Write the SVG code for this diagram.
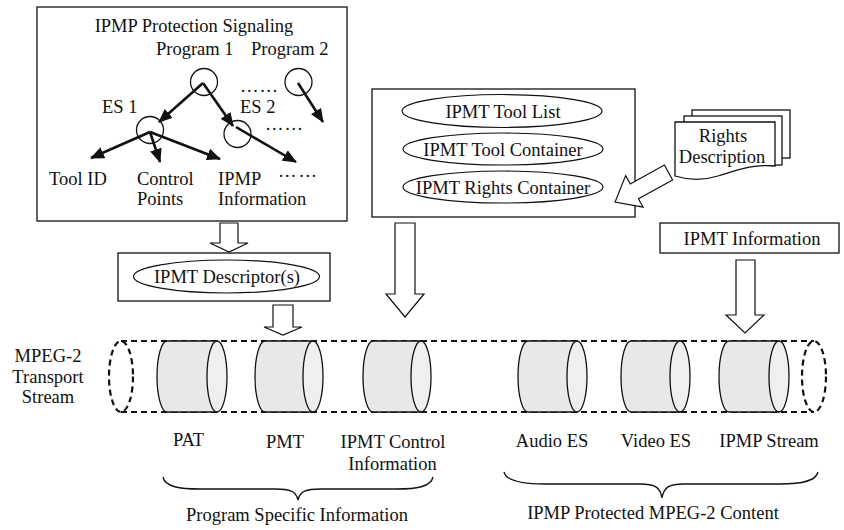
<svg xmlns="http://www.w3.org/2000/svg" width="844" height="530" viewBox="0 0 844 530">
  <style>
    text { font-family: "Liberation Serif", "Times New Roman", serif; font-size: 18.5px; fill: #111; }
    .c { text-anchor: middle; }
    .box { fill: #fff; stroke: #111; stroke-width: 1.3; }
    .oval { fill: #fff; stroke: #111; stroke-width: 1.2; }
    .node { fill: none; stroke: #111; stroke-width: 1.3; }
    .edge { stroke: #111; stroke-width: 2.6; fill: none; }
    .hollow { fill: #fff; stroke: #111; stroke-width: 1.2; stroke-linejoin: miter; }
    .tube { fill: none; stroke: #111; stroke-width: 2.2; stroke-dasharray: 6 4; }
    .cyl { fill: #e8e8e8; stroke: #111; stroke-width: 1.3; }
    .cap { fill: #efefef; stroke: #111; stroke-width: 1.3; }
    .brace { fill: none; stroke: #111; stroke-width: 1.3; }
  </style>
  <defs>
    <marker id="head" viewBox="0 0 14 12" refX="13" refY="6" markerWidth="14" markerHeight="12" markerUnits="userSpaceOnUse" orient="auto">
      <path d="M0,0 L14,6 L0,12 Z" fill="#111"/>
    </marker>
  </defs>

  <!-- Protection signalling tree -->
  <g id="signaling">
    <rect class="box" x="37" y="7" width="310" height="214"/>
    <text class="c" x="194" y="32">IPMP Protection Signaling</text>
    <text x="156" y="55">Program 1</text>
    <text x="251" y="55">Program 2</text>
    <circle class="node" cx="204" cy="82" r="13.5"/>
    <circle class="node" cx="298.5" cy="82" r="13.5"/>
    <circle class="node" cx="150" cy="130" r="13.5"/>
    <circle class="node" cx="237.5" cy="134" r="13.5"/>
    <text x="102" y="113">ES 1</text>
    <text x="240" y="113">ES 2</text>
    <text x="240" y="92" textLength="38" lengthAdjust="spacing">… …</text>
    <text x="265" y="130" textLength="38" lengthAdjust="spacing">… …</text>
    <text x="278" y="177" textLength="39" lengthAdjust="spacing">… …</text>
    <text x="49" y="185">Tool ID</text>
    <text x="137" y="185">Control</text>
    <text x="137" y="205">Points</text>
    <text x="218" y="185">IPMP</text>
    <text x="218" y="205">Information</text>
    <g id="tree-edges">
      <line class="edge" x1="203" y1="83" x2="159" y2="122" marker-end="url(#head)"/>
      <line class="edge" x1="203" y1="83" x2="233" y2="126" marker-end="url(#head)"/>
      <line class="edge" x1="298" y1="83" x2="323" y2="122" marker-end="url(#head)"/>
      <line class="edge" x1="150" y1="132" x2="91" y2="158" marker-end="url(#head)"/>
      <line class="edge" x1="150" y1="132" x2="160" y2="162" marker-end="url(#head)"/>
      <line class="edge" x1="150" y1="132" x2="220" y2="159" marker-end="url(#head)"/>
      <line class="edge" x1="236" y1="127" x2="296" y2="162" marker-end="url(#head)"/>
    </g>
  </g>

  <!-- Tool list / containers -->
  <g id="ipmt-containers">
    <rect class="box" x="372" y="89" width="263" height="128"/>
    <ellipse class="oval" cx="502" cy="111" rx="100" ry="16.5"/>
    <text class="c" x="503" y="118">IPMT Tool List</text>
    <ellipse class="oval" cx="503" cy="149" rx="100" ry="16"/>
    <text class="c" x="503" y="156">IPMT Tool Container</text>
    <ellipse class="oval" cx="503" cy="187" rx="100" ry="16"/>
    <text class="c" x="503" y="194">IPMT Rights Container</text>
  </g>

  <!-- Rights description document stack -->
  <g id="rights">
    <rect class="box" x="692" y="110" width="98" height="48"/>
    <rect class="box" x="684" y="116" width="98" height="49"/>
    <path class="box" d="M675,122 H775 V166 C752,164 738,170 718,176 C702,181 688,180 675,176 Z"/>
    <text class="c" x="723" y="142">Rights</text>
    <text class="c" x="722" y="163">Description</text>
  </g>

  <!-- Descriptor box -->
  <g id="descriptor">
    <rect class="box" x="118" y="253" width="212" height="48"/>
    <ellipse class="oval" cx="226.5" cy="276.5" rx="93" ry="16.5"/>
    <text class="c" x="227" y="283">IPMT Descriptor(s)</text>
  </g>

  <!-- IPMT information box -->
  <g id="ipmt-info">
    <rect class="box" x="660" y="223" width="179" height="30"/>
    <text class="c" x="752" y="245">IPMT Information</text>
  </g>

  <!-- Transport stream -->
  <g id="transport-stream">
    <text class="c" x="48" y="362">MPEG-2</text>
    <text class="c" x="48" y="383">Transport</text>
    <text class="c" x="48" y="403">Stream</text>
    <line class="tube" x1="121" y1="341" x2="814" y2="341"/>
    <line class="tube" x1="121" y1="412" x2="814" y2="412"/>
    <ellipse class="tube" cx="121" cy="376.5" rx="12" ry="35.5"/>
    <ellipse class="tube" cx="814" cy="376.5" rx="12" ry="35.5"/>
  </g>

  <g id="pat">
    <path class="cyl" d="M167,341 H217 V412 H167 A10,35.5 0 0 1 167,341 Z"/>
    <ellipse class="cap" cx="217" cy="376.5" rx="10" ry="35.5"/>
    <text class="c" x="188.5" y="446">PAT</text>
  </g>
  <g id="pmt">
    <path class="cyl" d="M265,341 H313 V412 H265 A10,35.5 0 0 1 265,341 Z"/>
    <ellipse class="cap" cx="313" cy="376.5" rx="10" ry="35.5"/>
    <text class="c" x="285" y="448">PMT</text>
  </g>
  <g id="ipmt-control">
    <path class="cyl" d="M373,341 H421 V412 H373 A10,35.5 0 0 1 373,341 Z"/>
    <ellipse class="cap" cx="421" cy="376.5" rx="10" ry="35.5"/>
    <text class="c" x="393" y="448">IPMT Control</text>
    <text class="c" x="392.5" y="470">Information</text>
  </g>
  <g id="audio-es">
    <path class="cyl" d="M528,341 H577 V412 H528 A10,35.5 0 0 1 528,341 Z"/>
    <ellipse class="cap" cx="577" cy="376.5" rx="10" ry="35.5"/>
    <text class="c" x="552" y="447">Audio ES</text>
  </g>
  <g id="video-es">
    <path class="cyl" d="M631,341 H680 V412 H631 A10,35.5 0 0 1 631,341 Z"/>
    <ellipse class="cap" cx="680" cy="376.5" rx="10" ry="35.5"/>
    <text class="c" x="656" y="447">Video ES</text>
  </g>
  <g id="ipmp-stream">
    <path class="cyl" d="M729,341 H779 V412 H729 A10,35.5 0 0 1 729,341 Z"/>
    <ellipse class="cap" cx="779" cy="376.5" rx="10" ry="35.5"/>
    <text class="c" x="769" y="447">IPMP Stream</text>
  </g>

  <!-- Groupings -->
  <g id="psi">
    <path class="brace" d="M163,477 C165,487 180,489 200,489 H275 C290,489 296,491 298,500 C300,491 306,489 321,489 H396 C416,489 431,487 433,477"/>
    <text class="c" x="297" y="521">Program Specific Information</text>
  </g>
  <g id="protected-content">
    <path class="brace" d="M504,472 C506,481 522,484 545,484 H640 C655,484 660,487 662,498 C664,487 669,484 684,484 H780 C803,484 816,481 818,472"/>
    <text class="c" x="653" y="519">IPMP Protected MPEG-2 Content</text>
  </g>

  <!-- Block arrows -->
  <g id="connectors">
    <polygon class="hollow" points="220,223 238,223 238,243 248,243 229,252 210,243 220,243"/>
    <polygon class="hollow" points="273,305 293,305 293,327 302,327 283,335 264,327 273,327"/>
    <polygon class="hollow" points="395,223 415,223 415,294 424,294 405,317 386,294 395,294"/>
    <polygon class="hollow" points="736,260 755,260 755,315 764,315 745,333 726,315 736,315"/>
    <polygon class="hollow" transform="translate(668.5,172.5) rotate(151.1)" points="0,-8.5 39,-8.5 39,-18 61,0 39,18 39,8.5 0,8.5"/>
  </g>
</svg>
